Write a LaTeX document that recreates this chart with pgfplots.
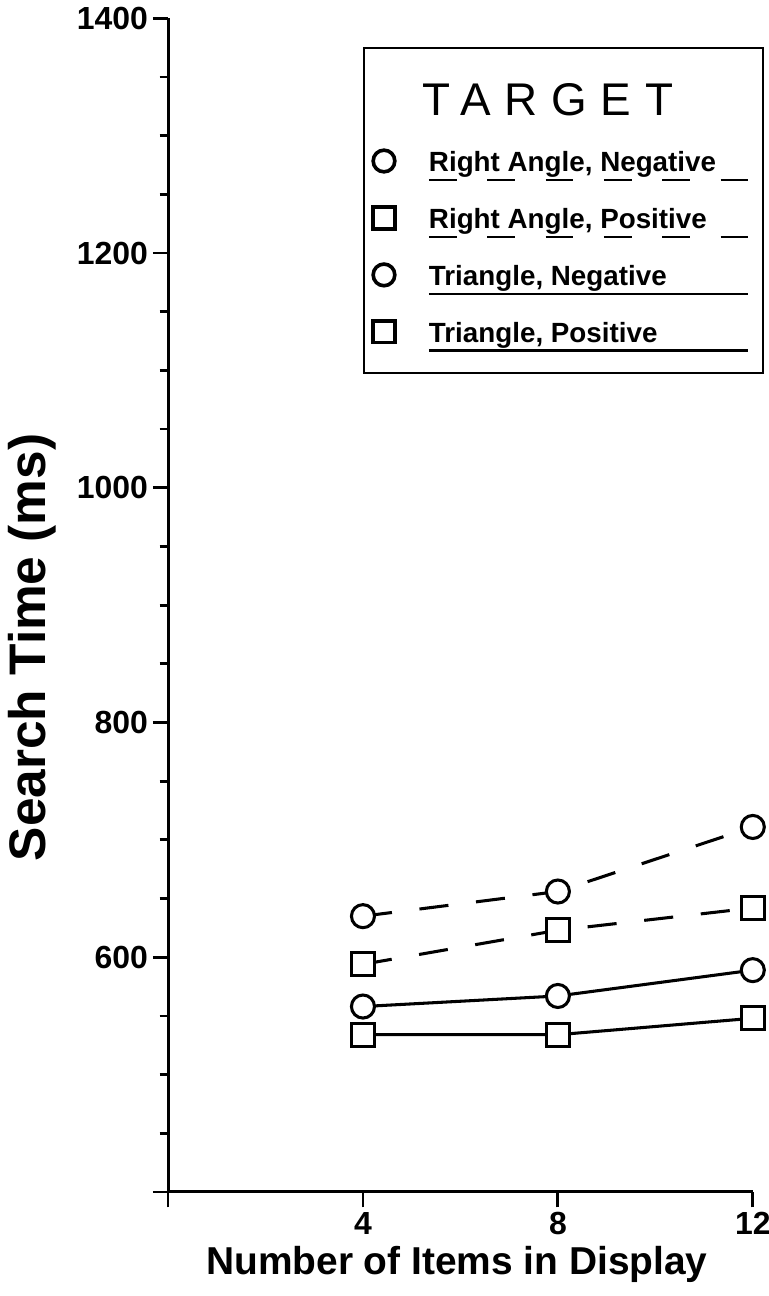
\documentclass[border=0pt]{standalone}
\usepackage{fontspec}
\setmainfont{Liberation Sans}
\usepackage{pgfplots}
\pgfplotsset{compat=1.18}
\newcommand{\rowstrut}{\rule[-15.6bp]{0pt}{41bp}}
\newcommand{\ulsolid}[1]{\makebox[236.6bp][l]{\rowstrut\rlap{\raisebox{-6.8bp}[0pt][0pt]{\rule{230bp}{2bp}}}#1}}
\newcommand{\uldash}[1]{\makebox[236.6bp][l]{\rowstrut\rlap{\raisebox{-6.8bp}[0pt][0pt]{\rule{20bp}{2bp}\hspace{22bp}\rule{20bp}{2bp}\hspace{22bp}\rule{20bp}{2bp}\hspace{22bp}\rule{20bp}{2bp}\hspace{22bp}\rule{20bp}{2bp}\hspace{22bp}\rule{20bp}{2bp}}}#1}}
\begin{document}
\begin{tikzpicture}
\useasboundingbox (-121bp,-74.9bp) rectangle (432bp,858.2bp);
\begin{axis}[
  scale only axis,
  width=421bp, height=845bp,
  xmin=0, xmax=12, ymin=400, ymax=1400,
  axis lines=left,
  axis line style={line width=2.2bp, -},
  every tick/.style={line width=2bp, black},
  tick align=outside,
  major tick length=11bp,
  minor tick length=6bp,
  xtick={0,4,8,12}, xticklabels={,4,8,12},
  ytick={400,600,800,1000,1200,1400},
  yticklabels={,600,800,1000,1200,1400},
  minor y tick num=3,
  /pgf/number format/assume math mode=true,
  ticklabel style={font=\bfseries\fontsize{23bp}{23bp}\selectfont},
  xlabel={Number of Items in Display},
  ylabel={Search Time (ms)},
  xlabel style={font=\bfseries\fontsize{28bp}{28bp}\selectfont, at={(axis description cs:0.494,-0.062)}, anchor=center},
  ylabel style={font=\bfseries\fontsize{37bp}{37bp}\selectfont, at={(axis description cs:-0.232,0.464)}, anchor=center},
  clip=false,
  legend style={at={(axis description cs:0.3333,0.9753)}, anchor=north west,
    draw=black, line width=1.5bp, inner xsep=4bp, inner ysep=6bp,
    font=\bfseries\fontsize{20bp}{20bp}\selectfont,
    row sep=0bp, column sep=0bp,
    nodes={inner sep=0bp, text depth=15.6bp},
    cells={anchor=west}},
  legend image code/.code={\path[draw=none] (0bp,0bp) -- (42.8bp,0bp); \path[#1, solid, draw=none, mark size=7.8bp, mark options={line width=2.6bp, fill=white, draw=black}] plot coordinates {(10.4bp,3bp)};},
]
\addlegendimage{empty legend}
\addlegendentry{\rule{0pt}{42bp}\hspace{-5bp}\mdseries\fontsize{33bp}{33bp}\selectfont\addfontfeature{LetterSpace=30}TARGET}
\addplot[black, line width=2.2bp, dash pattern=on 21bp off 20bp, mark=*, mark size=8.3bp, mark options={solid, fill=white, draw=black}]
  coordinates {(4,635) (8,656) (12,711)};
\addlegendentry{\uldash{Right Angle, Negative}}
\addplot[black, line width=2.2bp, dash pattern=on 21bp off 20bp, mark=square*, mark size=8.3bp, mark options={solid, fill=white, draw=black}]
  coordinates {(4,594) (8,623) (12,642)};
\addlegendentry{\uldash{Right Angle, Positive}}
\addplot[black, line width=2.2bp, solid, mark=*, mark size=8.3bp, mark options={solid, fill=white, draw=black}]
  coordinates {(4,558) (8,567) (12,589)};
\addlegendentry{\ulsolid{Triangle, Negative}}
\addplot[black, line width=2.2bp, solid, mark=square*, mark size=8.3bp, mark options={solid, fill=white, draw=black}]
  coordinates {(4,534) (8,534) (12,548)};
\addlegendentry{\ulsolid{Triangle, Positive}}
\end{axis}
\end{tikzpicture}
\end{document}
